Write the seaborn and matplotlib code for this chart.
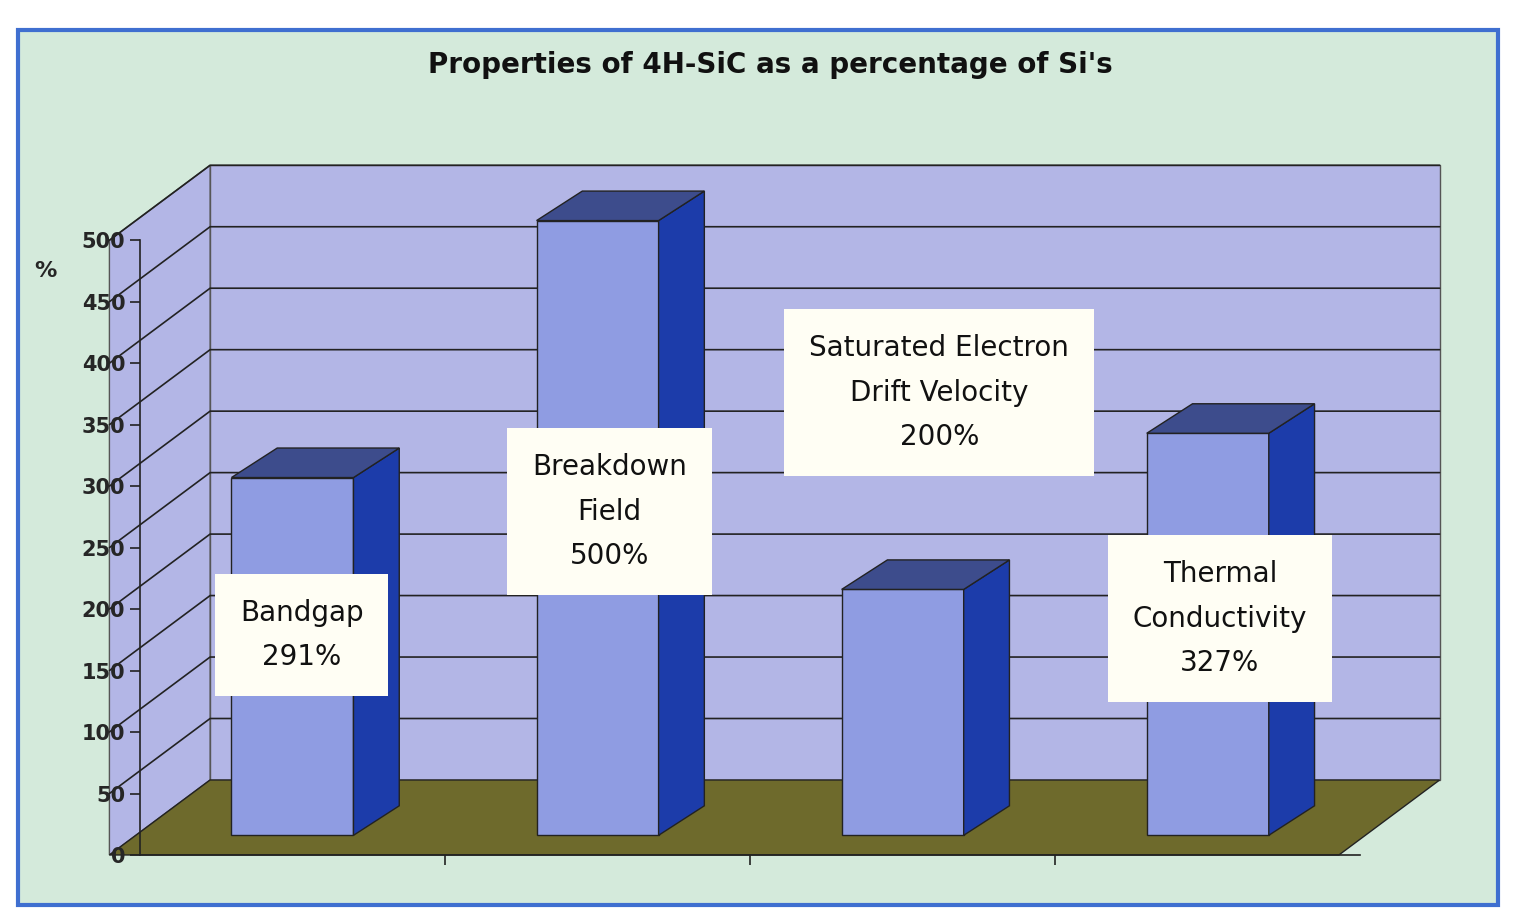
import numpy as np
import pandas as pd
import seaborn as sns
import matplotlib.pyplot as plt
from matplotlib.patches import Polygon, Rectangle

# data
properties = ["Bandgap", "Breakdown Field", "Saturated Electron Drift Velocity", "Thermal Conductivity"]
percent = [291, 500, 200, 327]
box_texts = ["Bandgap\n291%", "Breakdown\nField\n500%", "Saturated Electron\nDrift Velocity\n200%", "Thermal\nConductivity\n327%"]
box_pos = [(0.03, 179), (1.04, 279), (2.12, 376), (3.04, 192)]
yticks = list(range(0, 501, 50))

df = pd.DataFrame({"property": properties, "percent": percent})

sns.set_theme(style="white")
plt.rcParams['font.family'] = ['DejaVu Sans']

fig = plt.figure(figsize=(15.16, 9.23), dpi=100)
fig.patch.set_facecolor("white")
fig.patches.append(Rectangle((0.012, 0.02), 0.976, 0.948, transform=fig.transFigure,
                             facecolor="#d4eadb", edgecolor="#3f6fd0", lw=3, zorder=-10))
ax = fig.add_axes([0.0923, 0.0737, 0.805, 0.666])
ax.patch.set_alpha(0)

xl, xr = -0.6, 3.43
DX, DY = 0.33, 61
ax.set_xlim(xl, xr)
ax.set_ylim(0, 500)

# walls and floor
ax.add_patch(Polygon([(xl + DX, DY), (xr + DX, DY), (xr + DX, 500 + DY), (xl + DX, 500 + DY)],
                     closed=True, fc="#b3b6e6", ec="#555", lw=1, clip_on=False, zorder=0))
ax.add_patch(Polygon([(xl, 0), (xl + DX, DY), (xl + DX, 500 + DY), (xl, 500)],
                     closed=True, fc="#b3b6e6", ec="#555", lw=1, clip_on=False, zorder=0))
ax.add_patch(Polygon([(xl, 0), (xr, 0), (xr + DX, DY), (xl + DX, DY)],
                     closed=True, fc="#6e6a2c", ec="#222", lw=1, clip_on=False, zorder=0))
for v in yticks[1:]:
    ax.plot([xl, xl + DX, xr + DX], [v, v + DY, v + DY], color="#222", lw=1.2,
            clip_on=False, zorder=0.5)

sns.barplot(data=df, x="property", y="percent", ax=ax, width=0.4, color="#8f9ce2",
            saturation=1, edgecolor="#222", linewidth=1, zorder=2)

lift, bdx, bdy = 16, 0.15, 24
bars = [p for p in ax.patches if isinstance(p, Rectangle)]
for p in bars:
    p.set_y(p.get_y() + lift)
    p.set_clip_on(False)
    x0, w, y1 = p.get_x(), p.get_width(), p.get_y() + p.get_height()
    x1, y0 = x0 + w, p.get_y()
    ax.add_patch(Polygon([(x1, y0), (x1 + bdx, y0 + bdy), (x1 + bdx, y1 + bdy), (x1, y1)],
                         closed=True, fc="#1c3caa", ec="#222", lw=1, zorder=2, clip_on=False))
    ax.add_patch(Polygon([(x0, y1), (x1, y1), (x1 + bdx, y1 + bdy), (x0 + bdx, y1 + bdy)],
                         closed=True, fc="#3d4c8c", ec="#222", lw=1, zorder=2, clip_on=False))

for txt, (bx, by) in zip(box_texts, box_pos):
    ax.text(bx, by, txt, ha="center", va="center", fontsize=20, linespacing=1.75,
            color="#111", zorder=5,
            bbox=dict(boxstyle="square,pad=0.9", fc="#fffef4", ec="none"))

ax.set_yticks(yticks)
ax.set_yticklabels([str(v) for v in yticks], fontsize=15, fontweight="bold")
ax.set_xticks([0.5, 1.5, 2.5])
ax.set_xticklabels([])
ax.tick_params(axis="both", direction="out", length=7, color="#222", width=1.2, left=True, bottom=True)
ax.set_xlabel("")
ax.set_ylabel("")
for s in ["top", "right"]:
    ax.spines[s].set_visible(False)
for s in ["left", "bottom"]:
    ax.spines[s].set_color("#222")
    ax.spines[s].set_linewidth(1.2)

fig.text(0.508, 0.93, "Properties of 4H-SiC as a percentage of Si's", ha="center",
         va="center", fontsize=20, fontweight="bold", color="#111")
fig.text(0.03, 0.706, "%", ha="center", va="center", fontsize=16, fontweight="bold")

fig.savefig("out.png", dpi=100)
